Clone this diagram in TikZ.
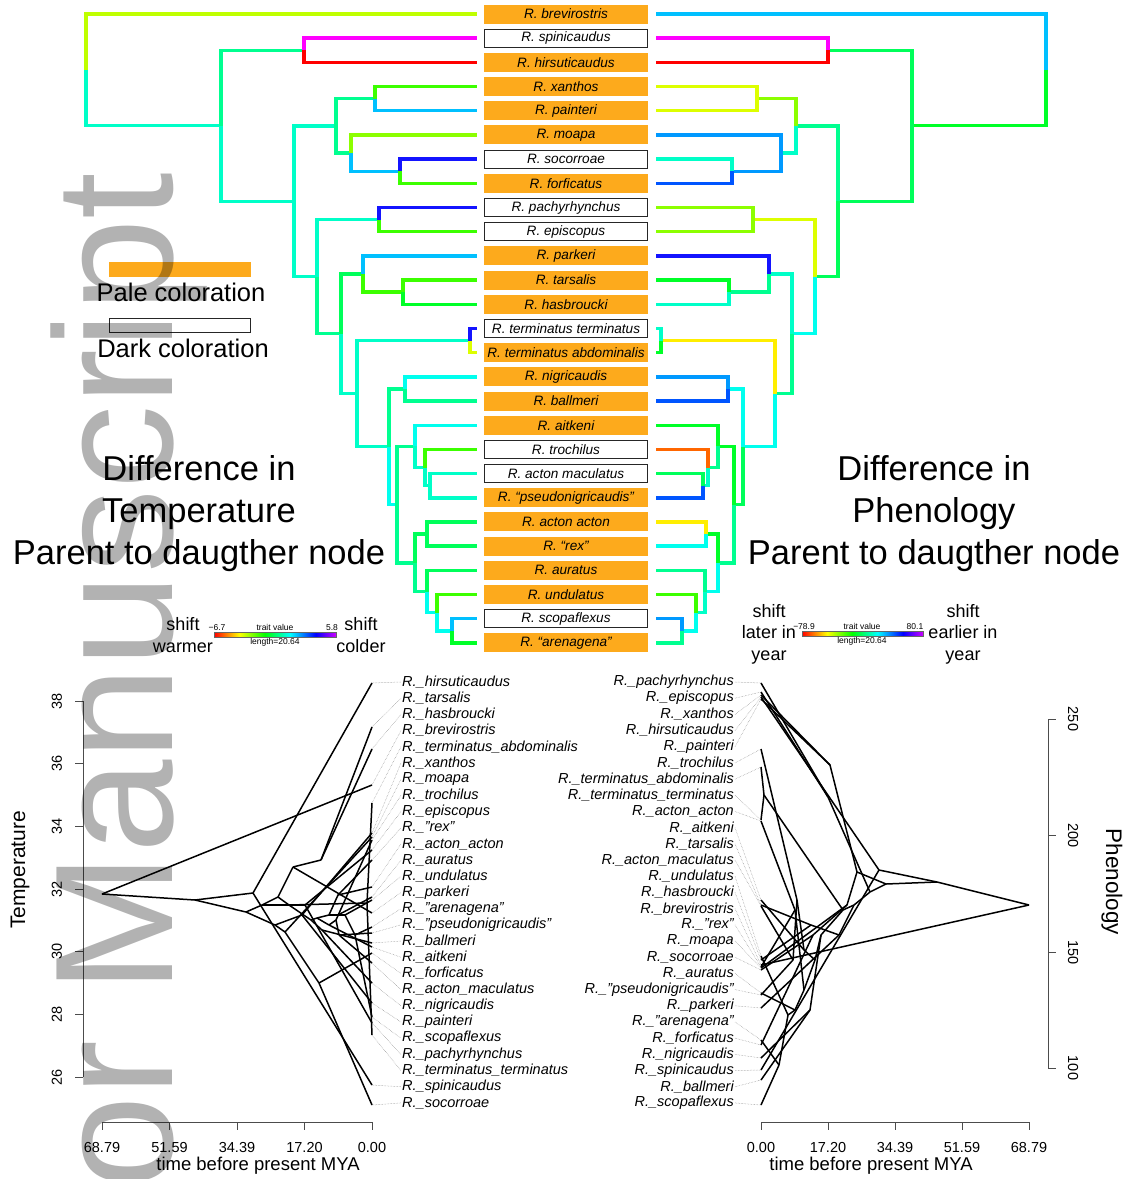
\documentclass[tikz,border=0pt]{standalone}
\usepackage{fontspec}
\setmainfont{Liberation Sans}
\usetikzlibrary{calc}

% branch colours (trait shifts)
\definecolor{tHot}{HTML}{FF0000}
\definecolor{tEmber}{HTML}{FF6600}
\definecolor{tGold}{HTML}{FFEE00}
\definecolor{tLemon}{HTML}{DDFF00}
\definecolor{tLime}{HTML}{BFFF00}
\definecolor{tChart}{HTML}{8CFF00}
\definecolor{tLeaf}{HTML}{3CFF00}
\definecolor{tGrass}{HTML}{00FF28}
\definecolor{tMint}{HTML}{00FF5A}
\definecolor{tSea}{HTML}{00FF90}
\definecolor{tAqua}{HTML}{00FFC8}
\definecolor{tCyan}{HTML}{00FFEE}
\definecolor{tSky}{HTML}{00C0FF}
\definecolor{tAzure}{HTML}{0099FF}
\definecolor{tCobalt}{HTML}{0055FF}
\definecolor{tDeep}{HTML}{1414FF}
\definecolor{tViolet}{HTML}{FF00FF}
\definecolor{tEnd}{HTML}{CC00FF}
\definecolor{paleOrange}{HTML}{FDAA1C}

\pgfdeclarehorizontalshading{traitbar}{100bp}{color(0bp)=(tHot); color(25bp)=(tHot); color(35.4bp)=(yellow); color(45.8bp)=(green); color(56.2bp)=(cyan); color(66.7bp)=(blue); color(75bp)=(tEnd); color(100bp)=(tEnd)}

\newcommand{\boxfont}{\fontsize{13.6}{15}\selectfont\itshape}
\newcommand{\tipfont}{\fontsize{14.5}{16}\selectfont\itshape}
\newcommand{\tickfont}{\fontsize{14.5}{16}\selectfont}
\newcommand{\barfont}{\fontsize{8.5}{9}\selectfont}
\newcommand{\keyfont}{\fontsize{25.5}{28}\selectfont}
\newcommand{\bigfont}{\fontsize{34.5}{42}\selectfont}
\newcommand{\wordfont}{\fontsize{18}{21.5}\selectfont}
\newcommand{\wmfont}{\fontsize{168}{168}\selectfont}

\tikzset{
  branch/.style={line width=3.4pt},
  pheno/.style={line width=1.5pt, line join=round},
  tip leader/.style={draw=black!45, line width=0.5pt, densely dotted},
  palebox/.style={fill=paleOrange, minimum width=164pt, minimum height=19pt, inner sep=0pt, font=\boxfont},
  darkbox/.style={draw=black!85, line width=0.9pt, fill=white, minimum width=163pt, minimum height=18pt, inner sep=0pt, font=\boxfont},
  tip label/.style={inner sep=1pt, font=\tipfont},
  axis/.style={draw=black!70, line width=0.8pt},
  tick text/.style={inner sep=0pt, font=\tickfont},
  bar text/.style={inner sep=0.5pt, font=\barfont},
  shift word/.style={inner sep=0pt, align=center, font=\wordfont}
}

\begin{document}
\begin{tikzpicture}[x=1pt, y=-1pt]
\useasboundingbox (0,0) rectangle (1129,1179);

% ---- top: taxon boxes, tree tips and inner nodes
\begin{scope}[y=-24.19pt, yshift=-14pt]
\foreach \key/\k/\kind/\txt in {
  brev/0/palebox/{R. brevirostris}, spin/1/darkbox/{R. spinicaudus}, hirs/2/palebox/{R. hirsuticaudus},
  xant/3/palebox/{R. xanthos}, pain/4/palebox/{R. painteri}, moap/5/palebox/{R. moapa},
  soco/6/darkbox/{R. socorroae}, forf/7/palebox/{R. forficatus}, pach/8/darkbox/{R. pachyrhynchus},
  epis/9/darkbox/{R. episcopus}, park/10/palebox/{R. parkeri}, tars/11/palebox/{R. tarsalis},
  hasb/12/palebox/{R. hasbroucki}, tter/13/darkbox/{R. terminatus terminatus}, tabd/14/palebox/{R. terminatus abdominalis},
  nigr/15/palebox/{R. nigricaudis}, ball/16/palebox/{R. ballmeri}, aitk/17/palebox/{R. aitkeni},
  troc/18/darkbox/{R. trochilus}, amac/19/darkbox/{R. acton maculatus}, pseu/20/palebox/{R. ``pseudonigricaudis''},
  aact/21/palebox/{R. acton acton}, rexx/22/palebox/{R. ``rex''}, aura/23/palebox/{R. auratus},
  undu/24/palebox/{R. undulatus}, scop/25/darkbox/{R. scopaflexus}, aren/26/palebox/{R. ``arenagena''}}{
  \coordinate (tl-\key) at (477,\k);
  \coordinate (tr-\key) at (656,\k);
  \node[\kind] (box-\key) at (566,\k) {\txt};
}
\foreach \n/\xl/\xr/\k in {
  root/86/1046/2.31, n1/221/912/4.62, n2/304/828/1.5, n3/294/838/7.74,
  n4/336/796/4.625, n6/375/757/3.5, n7/351/781/5.75, n8/400/732/6.5,
  n5/317/815/10.86, n9/379/753/8.5, n10/341/792/13.22, n11/363/769/10.75,
  n25/403/729/11.5, n12/357/775/15.70, n13/470/661/13.5, n14/389/743/17.89,
  n15/405/728/15.5, n16/397/734/20.28, n17/415/718/17.875, n19/425/708/18.75,
  n20/430/703/19.5, n18/415/718/22.6875, n21/427/706/21.5, n22/427/705/23.875,
  n23/437/696/24.75, n24/452/682/25.5}{
  \coordinate (tl-\n) at (\xl,\k);
  \coordinate (tr-\n) at (\xr,\k);
}
\end{scope}

% ---- bottom: phenogram inner nodes
\foreach \n/\x/\y in {
  root/102/894, n1/195/900, n2/253/893, n3/246/912, n4/275/925, n5/262/905,
  n6/302/915, n7/285/932, n8/319/983, n9/305/905, n10/278/897, n11/293/867,
  n25/321/860, n12/289/905, n13/367/903, n14/311/920, n15/322/930, n16/317/918,
  n17/329/925, n19/336/920, n20/339/935, n18/329/915, n21/338/895, n22/338/915,
  n23/345/915, n24/355/935}
  \coordinate (lp-\n) at (\x,\y);
\foreach \n/\x/\y in {
  root/1029/905, n1/937/882, n2/879/870, n3/886/884, n4/857/872, n5/870/892,
  n6/830/765, n7/847/905, n8/813/935, n9/828/797, n10/854/905, n11/839/935,
  n25/811/925, n12/843/910, n13/764/795, n14/821/935, n15/810/1010, n16/815/960,
  n17/804/950, n19/797/900, n20/793/960, n18/804/990, n21/795/910, n22/795/1010,
  n23/788/1015, n24/779/1065}
  \coordinate (rp-\n) at (\x,\y);

% tips and tip labels, temperature
\foreach \key/\j/\ty/\txt in {
  hirs/0/683/hirsuticaudus, tars/1/727/tarsalis, hasb/2/749/hasbroucki,
  brev/3/785/brevirostris, tabd/4/803/terminatus\_abdominalis, xant/5/833/xanthos,
  moap/6/837/moapa, troc/7/840/trochilus, epis/8/850/episcopus,
  rexx/9/860/"rex", aact/10/887/acton\_acton, aura/11/897/auratus,
  undu/12/900/undulatus, park/13/913/parkeri, aren/14/927/"arenagena",
  pseu/15/933/"pseudonigricaudis", ball/16/943/ballmeri, aitk/17/947/aitkeni,
  forf/18/953/forficatus, amac/19/963/acton\_maculatus, nigr/20/983/nigricaudis,
  pain/21/1003/painteri, scop/22/1017/scopaflexus, pach/23/1023/pachyrhynchus,
  tter/24/1035/terminatus\_terminatus, spin/25/1085/spinicaudus, soco/26/1105/socorroae}{
  \coordinate (lp-\key) at (372,\ty);
  \node[tip label, anchor=west] (ll-\key) at (401,{682+16.19*\j}) {R.\_\txt};
  \draw[tip leader] (lp-\key) -- (ll-\key.west);
}
% tips and tip labels, phenology
\foreach \key/\j/\ty/\txt in {
  pach/0/683/pachyrhynchus, epis/1/692/episcopus, xant/2/695/xanthos,
  hirs/3/697/hirsuticaudus, pain/4/699/painteri, troc/5/749/trochilus,
  tabd/6/767/terminatus\_abdominalis, tter/7/820/terminatus\_terminatus, aact/8/821/acton\_acton,
  aitk/9/900/aitkeni, tars/10/905/tarsalis, amac/11/906/acton\_maculatus,
  undu/12/956/undulatus, hasb/13/960/hasbroucki, brev/14/965/brevirostris,
  rexx/15/967/"rex", moap/16/968/moapa, soco/17/970/socorroae,
  aura/18/993/auratus, pseu/19/995/"pseudonigricaudis", park/20/1008/parkeri,
  aren/21/1040/"arenagena", forf/22/1045/forficatus, nigr/23/1058/nigricaudis,
  spin/24/1070/spinicaudus, ball/25/1080/ballmeri, scop/26/1105/scopaflexus}{
  \coordinate (rp-\key) at (761,\ty);
  \node[tip label, anchor=east] (rl-\key) at (735,{682+16.19*\j}) {R.\_\txt};
  \draw[tip leader] (rl-\key.east) -- (rp-\key);
}

% ---- all branches: parent/child/left colour/right colour
\foreach \p/\c/\cl/\cr in {
  root/brev/tLime/tSky, root/n1/tAqua/tGrass, n1/n2/tSea/tMint,
  n2/spin/tViolet/tViolet, n2/hirs/tHot/tHot, n1/n3/tAqua/tMint,
  n3/n4/tAqua/tSea, n4/n6/tSea/tChart, n6/xant/tLeaf/tLemon,
  n6/pain/tSky/tLemon, n4/n7/tSea/tAqua, n7/moap/tChart/tAzure,
  n7/n8/tSky/tAzure, n8/soco/tDeep/tAqua, n8/forf/tLeaf/tCobalt,
  n3/n5/tAqua/tMint, n5/n9/tAqua/tLemon, n9/pach/tDeep/tChart,
  n9/epis/tLeaf/tChart, n5/n10/tSea/tCyan, n10/n11/tMint/tAqua,
  n11/park/tSky/tDeep, n11/n25/tLeaf/tSea, n25/tars/tLeaf/tGrass,
  n25/hasb/tGrass/tAqua, n10/n12/tAqua/tSea, n12/n13/tAqua/tGold,
  n13/tter/tDeep/tAqua, n13/tabd/tLemon/tGrass, n12/n14/tAqua/tCyan,
  n14/n15/tSea/tCyan, n15/nigr/tCyan/tAzure, n15/ball/tSea/tCobalt,
  n14/n16/tCyan/tMint, n16/n17/tSea/tGrass, n17/aitk/tCyan/tGrass,
  n17/n19/tAqua/tSea, n19/troc/tLeaf/tEmber, n19/n20/tAqua/tAqua,
  n20/amac/tAqua/tMint, n20/pseu/tAqua/tCobalt, n16/n18/tSea/tSea,
  n18/n21/tMint/tGrass, n21/aact/tMint/tGold, n21/rexx/tMint/tCyan,
  n18/n22/tSea/tCyan, n22/aura/tMint/tSea, n22/n23/tCyan/tAqua,
  n23/undu/tLeaf/tLeaf, n23/n24/tCyan/tCyan, n24/scop/tSky/tAzure,
  n24/aren/tGrass/tSea}{
  \draw[branch, draw=\cl] (tl-\p) |- (tl-\c);
  \draw[branch, draw=\cr] (tr-\p) |- (tr-\c);
  \draw[pheno] (lp-\p) -- (lp-\c);
  \draw[pheno] (rp-\p) -- (rp-\c);
}

% ---- colour key
\node[fill=paleOrange, minimum width=142pt, minimum height=15pt, inner sep=0pt] (paleKey) at (180,269.5) {};
\node[inner sep=0pt, font=\keyfont] (paleText) at (181,292) {Pale coloration};
\node[draw=black!85, line width=0.9pt, minimum width=141pt, minimum height=14pt, inner sep=0pt] (darkKey) at (180,325.5) {};
\node[inner sep=0pt, font=\keyfont] (darkText) at (183,348) {Dark coloration};

\node[align=center, font=\bigfont] (tempHead) at (199,514) {Difference in\\Temperature\\Parent to daugther node};
\node[align=center, font=\bigfont] (phenHead) at (934,514) {Difference in\\Phenology\\Parent to daugther node};

% ---- trait bars
\shadedraw[shading=traitbar, draw=black!60, line width=0.4pt] (214,632) rectangle (336,637);
\node[bar text, anchor=south] (tLow) at (217,631) {−6.7};
\node[bar text, anchor=south] (tMid) at (275,631) {trait value};
\node[bar text, anchor=south] (tHigh) at (332,631) {5.8};
\node[bar text, anchor=north] (tLen) at (275,637.5) {length=20.64};
\node[shift word] (warmWord) at (183,635) {shift\\warmer};
\node[shift word] (coldWord) at (361,635) {shift\\colder};

\shadedraw[shading=traitbar, draw=black!60, line width=0.4pt] (802,631) rectangle (923,636);
\node[bar text, anchor=south] (pLow) at (804,630) {−78.9};
\node[bar text, anchor=south] (pMid) at (862,630) {trait value};
\node[bar text, anchor=south] (pHigh) at (915,630) {80.1};
\node[bar text, anchor=north] (pLen) at (862,636.5) {length=20.64};
\node[shift word] (laterWord) at (769,634) {shift\\later in\\year};
\node[shift word] (earlyWord) at (963,634) {shift\\earlier in\\year};

% ---- axes, temperature
\draw[axis] (83,701) -- (83,1077.2);
\foreach \v/\yy in {38/701,36/763.7,34/826.4,32/889.1,30/951.8,28/1014.5,26/1077.2}{
  \draw[axis] (83,\yy) -- (75,\yy);
  \node[tick text, rotate=90] (tT\v) at (57,\yy) {\v};
}
\draw[axis] (102,1122) -- (372,1122);
\foreach \xx/\lab [count=\i] in {102/68.79, 169.5/51.59, 237/34.39, 304.5/17.20, 372/0.00}{
  \draw[axis] (\xx,1122) -- (\xx,1130);
  \node[tick text] (lx\i) at (\xx,1147) {\lab};
}
\node[inner sep=0pt, font=\fontsize{18.5}{20}\selectfont] (timeL) at (258,1166) {time before present MYA};
\node[inner sep=0pt, rotate=90, font=\fontsize{21}{23}\selectfont] (tempTitle) at (20,870) {Temperature};

% ---- axes, phenology
\draw[axis] (1048,719) -- (1048,1068);
\foreach \v/\yy in {250/719,200/835.7,150/952.3,100/1068}{
  \draw[axis] (1048,\yy) -- (1056,\yy);
  \node[tick text, rotate=-90] (pT\v) at (1073,\yy) {\v};
}
\draw[axis] (761,1122) -- (1029,1122);
\foreach \xx/\lab [count=\i] in {761/0.00, 828/17.20, 895/34.39, 962/51.59, 1029/68.79}{
  \draw[axis] (\xx,1122) -- (\xx,1130);
  \node[tick text] (rx\i) at (\xx,1147) {\lab};
}
\node[inner sep=0pt, font=\fontsize{18.5}{20}\selectfont] (timeR) at (871,1166) {time before present MYA};
\node[inner sep=0pt, rotate=-90, font=\fontsize{22.5}{24}\selectfont] (phenTitle) at (1112,882) {Phenology};

% ---- watermark
\begin{scope}
\clip (0,0) rectangle (1129,1179);
\node[rotate=90, anchor=base west, inner sep=0pt, text=black, text opacity=0.3, font=\wmfont] (stamp) at (172,1190) {or Manuscript};
\end{scope}
\end{tikzpicture}
\end{document}
